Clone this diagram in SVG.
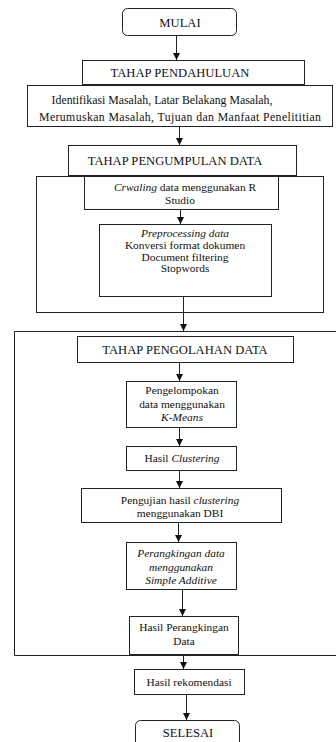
<svg xmlns="http://www.w3.org/2000/svg" width="336" height="742" viewBox="0 0 336 742">
<style>
  .box{fill:#fff;stroke:#222;stroke-width:1}
  .frame{fill:none;stroke:#222;stroke-width:1}
  .t{font-family:"Liberation Serif","Times New Roman",serif;font-size:11.4px;fill:#111;text-anchor:middle}
  .h{font-size:12.6px}
  .m{font-size:11.8px}
  .i{font-style:italic}
  .c{stroke:#222;stroke-width:1;fill:none;marker-end:url(#ah)}
</style>
<defs>
  <marker id="ah" markerWidth="7" markerHeight="7" refX="7" refY="3.5" orient="auto" markerUnits="userSpaceOnUse">
    <path d="M0,0 L7,3.5 L0,7 Z" fill="#111"/>
  </marker>
</defs>
<rect width="336" height="742" fill="#fff"/>

<g id="frames">
  <rect class="frame" x="36.5" y="176.5" width="287" height="136"/>
  <path class="frame" d="M337 331.5 H14.5 V655.5 H337"/>
</g>

<g id="connectors">
  <line class="c" x1="176.5" y1="36" x2="176.5" y2="60"/>
  <line class="c" x1="179.5" y1="127" x2="179.5" y2="145"/>
  <line class="c" x1="180.5" y1="210" x2="180.5" y2="224"/>
  <line class="c" x1="183.5" y1="297" x2="183.5" y2="331"/>
  <line class="c" x1="179.5" y1="363" x2="179.5" y2="381"/>
  <line class="c" x1="179.5" y1="428" x2="179.5" y2="446"/>
  <line class="c" x1="179.5" y1="471" x2="179.5" y2="488"/>
  <line class="c" x1="178.5" y1="523" x2="178.5" y2="542"/>
  <line class="c" x1="182.5" y1="590" x2="182.5" y2="616"/>
  <line class="c" x1="183.5" y1="654" x2="183.5" y2="669"/>
  <line class="c" x1="186.5" y1="695" x2="186.5" y2="720"/>
</g>

<g id="mulai">
  <rect class="box" x="122.5" y="8.5" width="114" height="27" rx="5"/>
  <text class="t h" x="180" y="27">MULAI</text>
</g>

<g id="tahap-pendahuluan">
  <rect class="box" x="82.5" y="60.5" width="222" height="24"/>
  <text class="t h" x="180" y="77">TAHAP PENDAHULUAN</text>
</g>

<g id="identifikasi">
  <rect class="box" x="27.5" y="85.5" width="305" height="41"/>
  <text class="t m" x="162" y="104">Identifikasi Masalah, Latar Belakang Masalah,</text>
  <text class="t m" x="180" y="121" textLength="282" lengthAdjust="spacing">Merumuskan Masalah, Tujuan dan Manfaat Penelititian</text>
</g>

<g id="tahap-pengumpulan">
  <rect class="box" x="68.5" y="145.5" width="228" height="30"/>
  <text class="t h" x="175" y="165">TAHAP PENGUMPULAN DATA</text>
</g>

<g id="crawling">
  <rect class="box" x="84.5" y="176.5" width="194" height="33"/>
  <text class="t" x="185" y="191"><tspan class="i">Crwaling</tspan> data menggunakan R</text>
  <text class="t" x="180" y="204">Studio</text>
</g>

<g id="preprocessing">
  <rect class="box" x="99.5" y="224.5" width="172" height="72"/>
  <text class="t i" x="185" y="237">Preprocessing data</text>
  <text class="t" x="185" y="249">Konversi format dokumen</text>
  <text class="t" x="185" y="260.5">Document filtering</text>
  <text class="t" x="185" y="272">Stopwords</text>
</g>

<g id="tahap-pengolahan">
  <rect class="box" x="77.5" y="336.5" width="216" height="26"/>
  <text class="t h" x="185" y="354">TAHAP PENGOLAHAN DATA</text>
</g>

<g id="pengelompokan">
  <rect class="box" x="126.5" y="381.5" width="110" height="46"/>
  <text class="t" x="182" y="394">Pengelompokan</text>
  <text class="t" x="182" y="408">data menggunakan</text>
  <text class="t i" x="182" y="421">K-Means</text>
</g>

<g id="hasil-clustering">
  <rect class="box" x="126.5" y="446.5" width="110" height="24"/>
  <text class="t" x="182" y="462">Hasil <tspan class="i">Clustering</tspan></text>
</g>

<g id="pengujian">
  <rect class="box" x="81.5" y="488.5" width="200" height="34"/>
  <text class="t" x="180" y="504">Pengujian hasil <tspan class="i">clustering</tspan></text>
  <text class="t" x="180" y="517">menggunakan DBI</text>
</g>

<g id="perangkingan">
  <rect class="box" x="126.5" y="542.5" width="110" height="47"/>
  <text class="t i" x="181" y="557">Perangkingan data</text>
  <text class="t i" x="181" y="571">menggunakan</text>
  <text class="t i" x="181" y="584">Simple Additive</text>
</g>

<g id="hasil-perangkingan">
  <rect class="box" x="129.5" y="616.5" width="109" height="38"/>
  <text class="t" x="184" y="631">Hasil Perangkingan</text>
  <text class="t" x="184" y="645">Data</text>
</g>

<g id="hasil-rekomendasi">
  <rect class="box" x="134.5" y="669.5" width="110" height="25"/>
  <text class="t" x="189" y="686">Hasil rekomendasi</text>
</g>

<g id="selesai">
  <rect class="box" x="135.5" y="720.5" width="104" height="30" rx="5"/>
  <text class="t h" x="188" y="737">SELESAI</text>
</g>
</svg>
